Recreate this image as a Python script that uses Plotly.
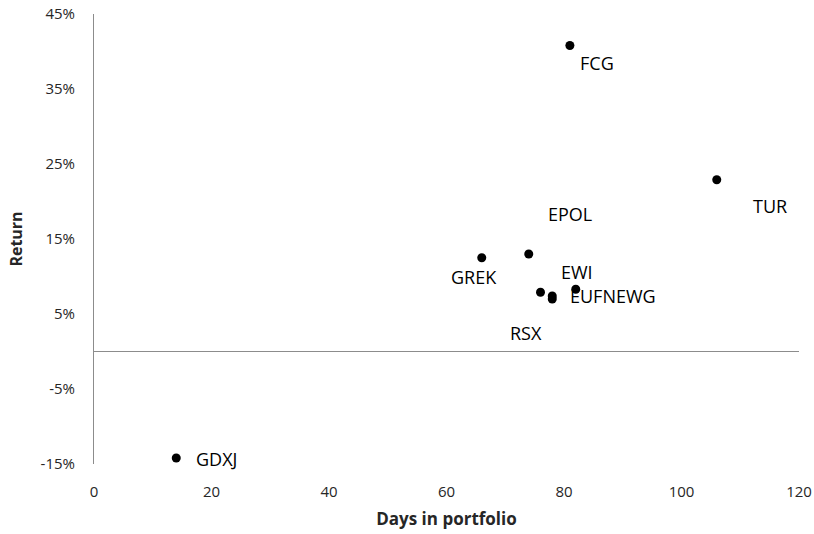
import plotly.graph_objects as go

names = ["FCG", "TUR", "GREK", "EPOL", "RSX", "EWI", "EUFN", "EWG", "GDXJ"]
days = [81, 106, 66, 74, 76, 82, 78, 78, 14]
returns = [0.408, 0.229, 0.125, 0.130, 0.079, 0.083, 0.074, 0.070, -0.142]
# label offsets in pixels (style)
label_dx = [27, 53, -8, 41, -15, 1, 65, 63, 19]
label_dy = [-17, -26, -19, 40, -41, 17, 0, 3, -1]
label_anchor = ["center", "center", "center", "center", "center", "center", "right", "left", "left"]

x_ticks = [0, 20, 40, 60, 80, 100, 120]
y_ticks = [-0.15, -0.05, 0.05, 0.15, 0.25, 0.35, 0.45]
y_tick_text = ["-15%", "-5%", "5%", "15%", "25%", "35%", "45%"]

FONT = "Open Sans, Noto Sans, sans-serif"

fig = go.Figure()
fig.add_trace(go.Scatter(
    x=days, y=returns, mode="markers",
    marker=dict(color="black", size=9),
    hoverinfo="skip", showlegend=False,
))

for n, x, y, dx, dy, a in zip(names, days, returns, label_dx, label_dy, label_anchor):
    fig.add_annotation(x=x, y=y, text=n, showarrow=False, xshift=dx, yshift=dy,
                       xanchor=a, yanchor="middle", borderpad=0,
                       font=dict(family=FONT, size=18, color="black"))

fig.update_layout(
    width=814, height=534,
    margin=dict(l=94, r=15, t=14, b=70, autoexpand=False),
    plot_bgcolor="white", paper_bgcolor="white",
    font=dict(family=FONT, color="#262626"),
    xaxis=dict(
        range=[0, 120], tickvals=x_ticks, showgrid=False, zeroline=False,
        showline=False, ticks="", ticklabelstandoff=17, automargin=False,
        tickfont=dict(size=15, color="#262626"),
        title=dict(text="<b>Days in portfolio</b>", font=dict(size=17, color="#262626"), standoff=13),
    ),
    yaxis=dict(
        range=[-0.15, 0.45], tickvals=y_ticks, ticktext=y_tick_text, showgrid=False,
        zeroline=True, zerolinecolor="#8c8c8c", zerolinewidth=1, automargin=False,
        showline=True, linecolor="#8c8c8c", linewidth=1, ticks="", ticklabelstandoff=15,
        tickfont=dict(size=15, color="#262626"),
        title=dict(text="<b>Return</b>", font=dict(size=16, color="#262626"), standoff=14),
    ),
)

fig.write_html("out.html", config={"displayModeBar": False},
               post_script="document.body.style.margin='0';document.body.style.overflow='hidden';")
